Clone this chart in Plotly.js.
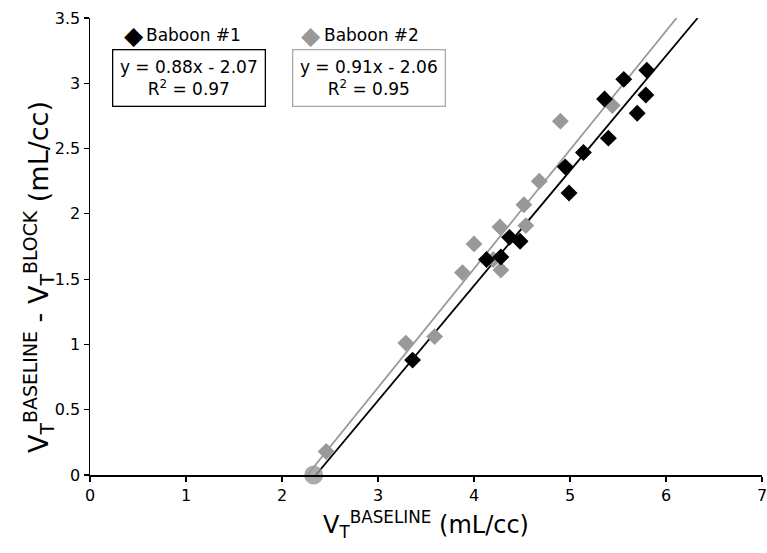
<!DOCTYPE html>
<html>
<head>
<meta charset="utf-8">
<script src="https://cdn.plot.ly/plotly-3.0.1.min.js"></script>
<style>html,body{margin:0;padding:0;background:#fff;}#chart{width:767px;height:553px;}</style>
</head>
<body>
<div id="chart"></div>
<script>
// Baboon #1 (black)
var b1x = [3.36, 4.13, 4.28, 4.37, 4.48, 4.95, 4.99, 5.14, 5.36, 5.40, 5.56, 5.70, 5.79, 5.80];
var b1y = [0.88, 1.65, 1.67, 1.82, 1.79, 2.36, 2.16, 2.47, 2.88, 2.58, 3.03, 2.77, 2.91, 3.10];
// Baboon #2 (gray)
var b2x = [2.46, 3.29, 3.59, 3.88, 4.00, 4.20, 4.27, 4.28, 4.52, 4.54, 4.68, 4.90, 5.44];
var b2y = [0.18, 1.01, 1.06, 1.55, 1.77, 1.65, 1.90, 1.57, 2.07, 1.91, 2.25, 2.71, 2.83];
// common origin point
var originX = [2.33];
var originY = [0];
// fits
var fit1 = {slope: 0.88, intercept: -2.07, r2: 0.97};
var fit2 = {slope: 0.91, intercept: -2.06, r2: 0.95};
var yMin = 0, yMax = 3.5;
function fitLine(f) {
  return {x: [(yMin - f.intercept) / f.slope, (yMax - f.intercept) / f.slope], y: [yMin, yMax]};
}
var l1 = fitLine(fit1), l2 = fitLine(fit2);
var black = '#000000', gray = '#999999';
var F = 'DejaVu Sans, Verdana, sans-serif';

var traces = [
  {x: l2.x, y: l2.y, mode: 'lines', line: {color: gray, width: 1.8}, hoverinfo: 'skip'},
  {x: l1.x, y: l1.y, mode: 'lines', line: {color: black, width: 1.8}, hoverinfo: 'skip'},
  {x: originX, y: originY, mode: 'markers', marker: {symbol: 'circle', size: 19, color: 'rgba(150,150,150,0.8)'}, cliponaxis: false},
  {x: b2x, y: b2y, mode: 'markers', marker: {symbol: 'diamond', size: 13, color: gray}},
  {x: b1x, y: b1y, mode: 'markers', marker: {symbol: 'diamond', size: 13, color: black}}
];

var L = 90, R = 5, T = 18, B = 78;
var W = 767 - L - R, H = 553 - T - B;
function px(x) { return (x - L) / W; }
function py(y) { return (553 - B - y) / H; }

function eq(f) {
  return 'y = ' + f.slope.toFixed(2) + 'x - ' + Math.abs(f.intercept).toFixed(2) + '<br>R<sup>2</sup> = ' + f.r2.toFixed(2);
}

function ann(o) {
  o.xref = 'paper'; o.yref = 'paper'; o.showarrow = false;
  if (!o.xanchor) o.xanchor = 'center';
  o.yanchor = 'middle';
  return o;
}

var layout = {
  width: 767, height: 553,
  margin: {l: L, r: R, t: T, b: B},
  paper_bgcolor: '#fff', plot_bgcolor: '#fff',
  showlegend: false,
  font: {family: F, size: 16, color: '#000'},
  xaxis: {
    range: [0, 7], dtick: 1, tick0: 0, showgrid: false, zeroline: false,
    showline: true, linecolor: '#000', linewidth: 1.5,
    ticks: 'outside', ticklen: 5, tickcolor: '#000', tickwidth: 1.2,
    ticklabeloverflow: 'allow',
    tickfont: {family: F, size: 16, color: '#000'},
    title: {text: 'V<sub>T</sub><sup>BASELINE</sup> (mL/cc)', font: {family: F, size: 24, color: '#000'}, standoff: 12}
  },
  yaxis: {
    range: [0, 3.5], dtick: 0.5, tick0: 0, showgrid: false, zeroline: false,
    showline: true, linecolor: '#000', linewidth: 1.5,
    ticks: 'outside', ticklen: 5, tickcolor: '#000', tickwidth: 1.2,
    tickfont: {family: F, size: 16, color: '#000'}
  },
  annotations: [
    ann({x: px(38), y: py(277), textangle: -90, text: 'V<sub>T</sub><sup>BASELINE</sup> - V<sub>T</sub><sup>BLOCK</sup> (mL/cc)', font: {family: F, size: 27, color: '#000'}}),
    ann({x: px(134), y: py(35), text: '◆', font: {family: F, size: 25, color: black}}),
    ann({x: px(144), y: py(35), xanchor: 'left', text: 'Baboon #1', font: {family: F, size: 17, color: '#000'}}),
    ann({x: px(311), y: py(35), text: '◆', font: {family: F, size: 25, color: gray}}),
    ann({x: px(322), y: py(35), xanchor: 'left', text: 'Baboon #2', font: {family: F, size: 17, color: '#000'}}),
    ann({x: px(188.5), y: py(77.5), text: eq(fit1), align: 'center',
      width: 151, height: 55, bordercolor: '#000', borderwidth: 1.3, borderpad: 0, bgcolor: '#fff', font: {family: F, size: 17, color: '#000'}}),
    ann({x: px(368.5), y: py(77.5), text: eq(fit2), align: 'center',
      width: 151, height: 55, bordercolor: '#aaaaaa', borderwidth: 1.3, borderpad: 0, bgcolor: '#fff', font: {family: F, size: 17, color: '#000'}})
  ]
};

Plotly.newPlot('chart', traces, layout, {displayModeBar: false, staticPlot: true});
</script>
</body>
</html>
